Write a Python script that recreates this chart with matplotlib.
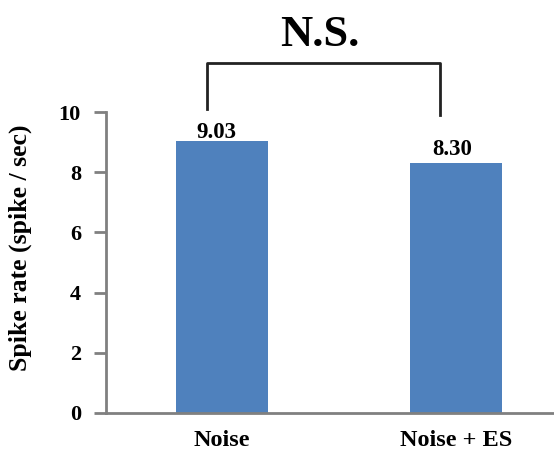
import matplotlib
matplotlib.use("Agg")
import matplotlib.pyplot as plt

categories = ["Noise", "Noise + ES"]
values = [9.03, 8.30]
value_labels = ["9.03", "8.30"]
yticks = [0, 2, 4, 6, 8, 10]
sig_label = "N.S."

plt.rcParams['font.family'] = ['Liberation Serif', 'DejaVu Serif']
plt.rcParams['font.weight'] = 'bold'

fig = plt.figure(figsize=(5.54, 4.53), dpi=100)
ax = fig.add_axes([106/554, 40/453, 448/554, 301/453])

x = list(range(len(categories)))
ax.bar(x, values, width=0.394, color="#4F81BD", zorder=2)
ax.set_xlim(-0.497, 1.42)
ax.set_ylim(0, 10)
ax.set_yticks(yticks)
ax.set_yticklabels([str(t) for t in yticks], fontsize=16, fontweight='bold')
ax.set_xticks(x)
ax.set_xticklabels(categories, fontsize=17.5, fontweight='bold')
ax.tick_params(axis='x', length=0, pad=12)
ax.tick_params(axis='y', length=9, width=2, color='#808080', direction='out', pad=9)

for s in ['top', 'right']:
    ax.spines[s].set_visible(False)
for s in ['left', 'bottom']:
    ax.spines[s].set_color('#808080')
    ax.spines[s].set_linewidth(2)

ax.set_ylabel("Spike rate (spike / sec)", fontsize=18.5, fontweight='bold')
ax.yaxis.set_label_coords(-0.165, 0.55)

x_offsets = [-0.023, -0.016]
y_offsets = [0.12, 0.28]
for xi, v, lab, ox, oy in zip(x, values, value_labels, x_offsets, y_offsets):
    ax.text(xi + ox, v + oy, lab, ha='center', va='baseline', fontsize=16.5, fontweight='bold')

# bracket
ax.plot([-0.064, -0.064, 0.934, 0.934], [10.1, 11.63, 11.63, 9.9], color='#222222', lw=2, clip_on=False)
ax.text(0.42, 12.55, sig_label, ha='center', va='center', fontsize=32, fontweight='bold')

fig.savefig("out.png", dpi=100)
